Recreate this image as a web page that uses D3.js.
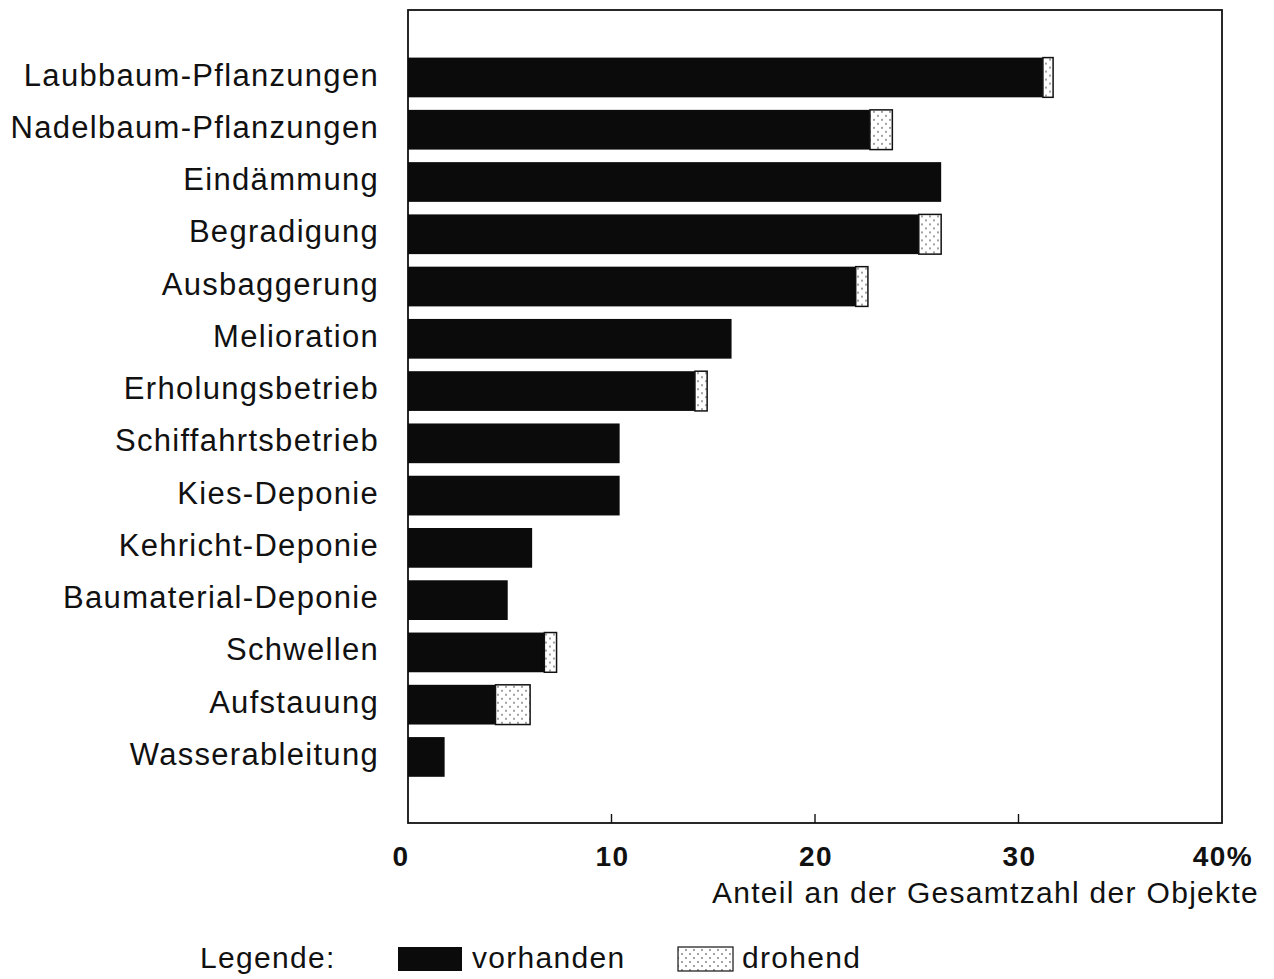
<!DOCTYPE html>
<html>
<head>
<meta charset="utf-8">
<script src="https://cdn.jsdelivr.net/npm/d3@7"></script>
<style>
  body { margin: 0; background: #fff; }
  svg text { font-family: "Liberation Sans", Arial, sans-serif; fill: #111; }
</style>
</head>
<body>
<div id="chart"></div>
<script>
// Anteil an der Gesamtzahl der Objekte (%)
var categories = ["Laubbaum-Pflanzungen", "Nadelbaum-Pflanzungen", "Eindämmung", "Begradigung",
  "Ausbaggerung", "Melioration", "Erholungsbetrieb", "Schiffahrtsbetrieb", "Kies-Deponie",
  "Kehricht-Deponie", "Baumaterial-Deponie", "Schwellen", "Aufstauung", "Wasserableitung"];
var vorhanden = [31.2, 22.7, 26.2, 25.1, 22.0, 15.9, 14.1, 10.4, 10.4, 6.1, 4.9, 6.7, 4.3, 1.8];
var drohend   = [0.5, 1.1, 0, 1.1, 0.6, 0, 0.6, 0, 0, 0, 0, 0.6, 1.7, 0];
var ticks = [0, 10, 20, 30, 40];
var tickLabels = ["0", "10", "20", "30", "40%"];

var W = 1274, H = 979,
    m = [10, 52, 156, 408]; // top right bottom left

var svg = d3.select("#chart").append("svg")
    .attr("width", W)
    .attr("height", H);

var defs = svg.append("defs");
var pat = defs.append("pattern")
    .attr("id", "dots")
    .attr("patternUnits", "userSpaceOnUse")
    .attr("width", 8)
    .attr("height", 8);
pat.append("rect").attr("width", 8).attr("height", 8).attr("fill", "#fff");
pat.append("circle").attr("cx", 2).attr("cy", 2).attr("r", 0.9).attr("fill", "#777");
pat.append("circle").attr("cx", 6).attr("cy", 6).attr("r", 0.9).attr("fill", "#777");

var x = d3.scaleLinear().domain([0, 40]).range([m[3], W - m[1]]);
var y = d3.scaleBand().domain(categories).range([57.6, 776.8]).paddingInner(0.24).paddingOuter(0);

// frame
svg.append("rect")
    .attr("x", x(0)).attr("y", m[0])
    .attr("width", x(40) - x(0)).attr("height", H - m[2] - m[0])
    .attr("fill", "none").attr("stroke", "#111").attr("stroke-width", 1.8);

var yb = H - m[2];
svg.selectAll(".tick").data(ticks.slice(1, 4)).enter().append("line")
    .attr("x1", function(d) { return x(d); }).attr("x2", function(d) { return x(d); })
    .attr("y1", yb).attr("y2", yb - 9)
    .attr("stroke", "#111").attr("stroke-width", 1.4);

svg.selectAll(".ticklabel").data(ticks).enter().append("text")
    .attr("x", function(d, i) { return x(d) + (i == 0 ? -7 : 1); })
    .attr("y", 866)
    .attr("text-anchor", "middle")
    .attr("font-size", 28).attr("font-weight", "bold")
    .attr("letter-spacing", 1.5)
    .text(function(d, i) { return tickLabels[i]; });

svg.append("text")
    .attr("x", 1259).attr("y", 903)
    .attr("text-anchor", "end")
    .attr("font-size", 30)
    .attr("letter-spacing", 1.3)
    .text("Anteil an der Gesamtzahl der Objekte");

var rows = svg.selectAll(".row").data(categories).enter().append("g")
    .attr("transform", function(d) { return "translate(0," + y(d) + ")"; });

rows.append("rect")
    .attr("x", x(0))
    .attr("width", function(d, i) { return x(vorhanden[i]) - x(0); })
    .attr("height", y.bandwidth())
    .attr("fill", "#0b0b0b");

rows.filter(function(d, i) { return drohend[i] > 0; }).append("rect")
    .attr("x", function(d) { return x(vorhanden[categories.indexOf(d)]); })
    .attr("width", function(d) { var i = categories.indexOf(d); return x(vorhanden[i] + drohend[i]) - x(vorhanden[i]); })
    .attr("height", y.bandwidth())
    .attr("fill", "url(#dots)")
    .attr("stroke", "#111").attr("stroke-width", 1.5);

rows.append("text")
    .attr("x", 379)
    .attr("y", y.bandwidth() / 2)
    .attr("dy", "0.26em")
    .attr("text-anchor", "end")
    .attr("font-size", 31)
    .attr("letter-spacing", 1.3)
    .text(function(d) { return d; });

// legend
var lg = svg.append("g").attr("font-size", 30).attr("letter-spacing", 1.3);
lg.append("text").attr("x", 200).attr("y", 968).text("Legende:");
lg.append("rect").attr("x", 398).attr("y", 947).attr("width", 64).attr("height", 24).attr("fill", "#0b0b0b");
lg.append("text").attr("x", 472).attr("y", 968).text("vorhanden");
lg.append("rect").attr("x", 678).attr("y", 947).attr("width", 55).attr("height", 24)
    .attr("fill", "url(#dots)").attr("stroke", "#111").attr("stroke-width", 1.2);
lg.append("text").attr("x", 742).attr("y", 968).text("drohend");
</script>
</body>
</html>
